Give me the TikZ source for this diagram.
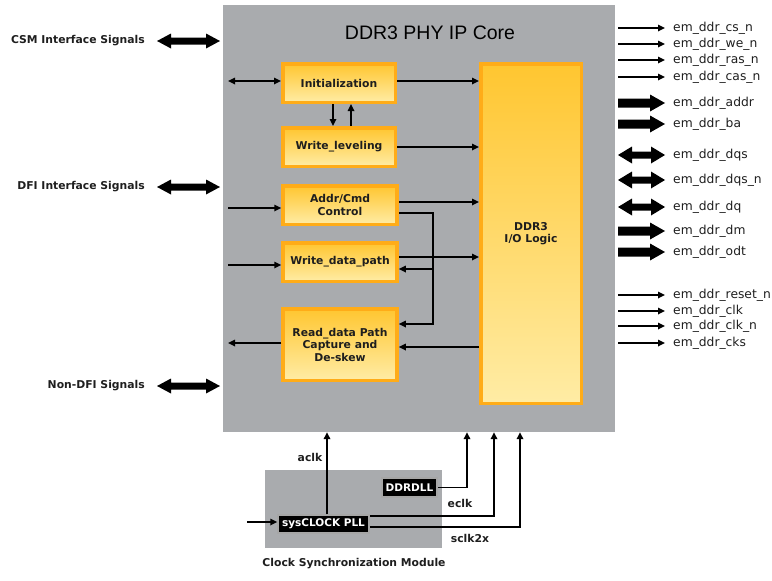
\documentclass[tikz,border=0pt]{standalone}
\usepackage{fontspec}
\setmainfont{DejaVu Sans}
\newfontfamily\titlefont{Liberation Sans}
\usetikzlibrary{arrows.meta,calc}
\definecolor{coregray}{RGB}{169,171,174}
\definecolor{boxborder}{RGB}{255,172,24}
\definecolor{boxtop}{RGB}{255,198,48}
\definecolor{boxbot}{RGB}{255,236,165}
\definecolor{txtdark}{RGB}{30,30,30}
\newcommand\fatRight[3]{\fill[black] (#1,#3-4.5) -- (#2-15,#3-4.5) -- (#2-15,#3-8.5) -- (#2,#3) -- (#2-15,#3+8.5) -- (#2-15,#3+4.5) -- (#1,#3+4.5) -- cycle;}
\newcommand\fatBoth[4]{\fill[black] (#1,#3) -- (#1+14,#3-#4) -- (#1+14,#3-3.5) -- (#2-14,#3-3.5) -- (#2-14,#3-#4) -- (#2,#3) -- (#2-14,#3+#4) -- (#2-14,#3+3.5) -- (#1+14,#3+3.5) -- (#1+14,#3+#4) -- cycle;}
\tikzset{
  blk/.style={draw=boxborder, line width=3.5pt, top color=boxtop, bottom color=boxbot,
    inner sep=0pt, align=center, text=txtdark, font=\fontsize{10.8}{12.5}\selectfont\bfseries},
  arr/.style={line width=1.6pt, -{Triangle[length=7pt,width=6.5pt]}},
  darr/.style={line width=1.6pt, {Triangle[length=7pt,width=6.5pt]}-{Triangle[length=7pt,width=6.5pt]}},
  sigl/.style={anchor=east, inner sep=0pt, text=txtdark, font=\fontsize{10.8}{12}\selectfont\bfseries},
  sigr/.style={anchor=west, inner sep=0pt, text=txtdark, font=\fontsize{12.3}{13}\selectfont},
  clk/.style={draw=gray!70, line width=1.5pt, fill=black, text=white, inner sep=0pt,
    font=\fontsize{10.5}{12}\selectfont\bfseries},
  clkl/.style={inner sep=0pt, text=txtdark, font=\fontsize{10.8}{12}\selectfont\bfseries}
}
\begin{document}
\begin{tikzpicture}[x=1pt,y=-1pt]
\useasboundingbox (0,0) rectangle (772,581);
% core
\node[fill=coregray, minimum width=392pt, minimum height=427pt, inner sep=0pt] (core) at (419,218.5) {};
\node[inner sep=0pt] (title) at (430,33) {\titlefont\fontsize{19.5}{22}\selectfont DDR3 PHY IP Core};
% blocks
\node[blk, minimum width=112.5pt, minimum height=38.5pt] (init) at (339,83) {Initialization};
\node[blk, minimum width=112.5pt, minimum height=38.5pt] (wl) at (339,147) {Write\_leveling};
\node[blk, minimum width=114pt, minimum height=38.5pt] (addr) at (340,205) {Addr/Cmd\\Control};
\node[blk, minimum width=114pt, minimum height=38.5pt] (wdp) at (340,262) {Write\_data\_path};
\node[blk, minimum width=114pt, minimum height=71.5pt] (rdp) at (340,344.5) {Read\_data Path\\Capture and\\De-skew};
\node[blk, minimum width=100.5pt, minimum height=339.5pt] (io) at (531,233.5) {DDR3\\I/O Logic};
% left signals
\node[sigl] (csm) at (145,41) {CSM Interface Signals};
\node[sigl] (dfi) at (145,187) {DFI Interface Signals};
\node[sigl] (ndfi) at (145,386) {Non-DFI Signals};
\fatBoth{157}{220}{41}{7.5}
\fatBoth{157}{220}{187}{7.5}
\fatBoth{157}{220}{386}{7.5}
% inner connections
\coordinate (inI) at (228,81);
\coordinate (inA) at (228,208);
\coordinate (inW) at (228,265);
\coordinate (outR) at (228,343);
\coordinate (jn) at (433,213);
\draw[darr] (inI) -- (init.west |- inI);
\draw[arr] (init.east |- 0,81) -- (io.west |- 0,81);
\draw[arr] (init.south -| 333,0) -- (wl.north -| 333,0);
\draw[arr] (wl.north -| 351,0) -- (init.south -| 351,0);
\draw[arr] (wl.east) -- (io.west |- wl.east);
\draw[arr] (inA) -- (addr.west |- inA);
\draw[arr] (addr.east |- 0,202) -- (io.west |- 0,202);
\draw[arr] (addr.east |- jn) -- (jn) |- (rdp.east |- 0,324);
\draw[arr] (jn |- 0,269) -- (wdp.east |- 0,269);
\draw[arr] (inW) -- (wdp.west |- inW);
\draw[arr] (wdp.east |- 0,257) -- (io.west |- 0,257);
\draw[arr] (rdp.west |- outR) -- (outR);
\draw[arr] (io.west |- 0,347) -- (rdp.east |- 0,347);
% right signals
\foreach \yy/\tt in {28/em\_ddr\_cs\_n, 44/em\_ddr\_we\_n, 60/em\_ddr\_ras\_n, 77/em\_ddr\_cas\_n,
    295/em\_ddr\_reset\_n, 311/em\_ddr\_clk, 326/em\_ddr\_clk\_n, 343/em\_ddr\_cks}{
  \node[sigr] (r\yy) at (673,\yy) {\tt};
  \draw[arr] (618,\yy) -- ([xshift=-8pt]r\yy.west);
}
\foreach \yy/\tt in {103/em\_ddr\_addr, 124/em\_ddr\_ba, 231/em\_ddr\_dm, 252/em\_ddr\_odt}{
  \node[sigr] (r\yy) at (673,\yy) {\tt};
  \fatRight{618}{665}{\yy}
}
\foreach \yy/\tt in {155/em\_ddr\_dqs, 180/em\_ddr\_dqs\_n, 207/em\_ddr\_dq}{
  \node[sigr] (r\yy) at (673,\yy) {\tt};
  \fatBoth{618}{665}{\yy}{8.5}
}
% clock module
\node[fill=coregray, minimum width=177pt, minimum height=78pt, inner sep=0pt] (csmod) at (353.5,509) {};
\node[clk, minimum width=55pt, minimum height=19pt] (dll) at (409.5,487.5) {DDRDLL};
\node[clk, minimum width=91pt, minimum height=18pt] (pll) at (323.5,524) {sysCLOCK PLL};
\coordinate (pin) at (247,522);
\draw[arr] (pin) -- (pll.west |- pin);
\draw[arr] (pll.north -| 327,0) -- (core.south -| 327,0);
\draw[arr] (dll.east) -| (core.south -| 467,0);
\draw[arr] (pll.east |- 0,516) -| (core.south -| 494,0);
\draw[arr] (pll.east |- 0,527) -| (core.south -| 520,0);
\node[clkl] (aclkl) at (310,457) {aclk};
\node[clkl] (eclkl) at (460,503) {eclk};
\node[clkl] (sclkl) at (470,538) {sclk2x};
\node[clkl] (csmlbl) at (354,564) {Clock Synchronization Module};
\end{tikzpicture}
\end{document}
